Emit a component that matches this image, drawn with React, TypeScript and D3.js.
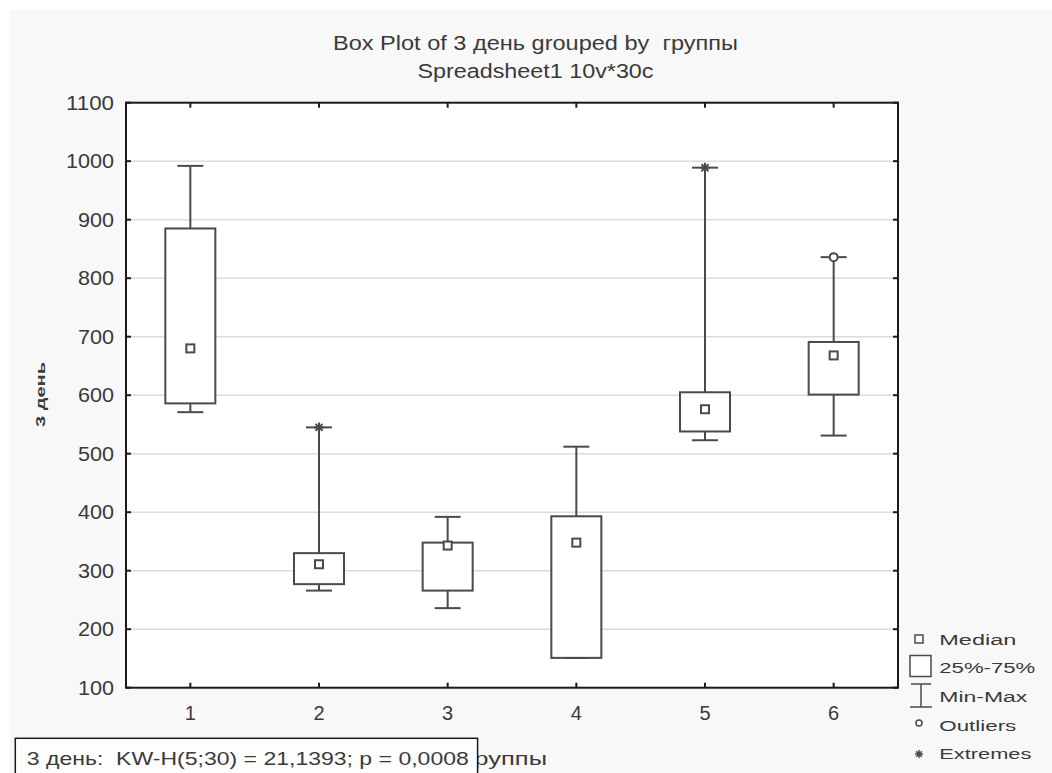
import React from "react";
import * as d3 from "d3";

const groups = ["1", "2", "3", "4", "5", "6"];
const mins = [571, 266, 236, 151, 523, 531];
const q1 = [586, 277, 266, 151, 538, 601];
const medians = [680, 311, 343, 348, 576, 668];
const q3 = [885, 330, 348, 393, 605, 691];
const maxs = [992, 545, 392, 512, 989, 836];
const outliers = [null, null, null, null, null, 836];
const extremes = [null, 545, null, null, 989, null];

const yTickValues = [100, 200, 300, 400, 500, 600, 700, 800, 900, 1000, 1100];

const title1 = "Box Plot of 3 день grouped by  группы";
const title2 = "Spreadsheet1 10v*30c";
const yTitle = "3 день";
const xTitle = "группы";
const statsText = "3 день:  KW-H(5;30) = 21,1393; p = 0,0008";

const legendItems = [
  { key: "median", label: "Median", len: 77 },
  { key: "box", label: "25%-75%", len: 96 },
  { key: "minmax", label: "Min-Max", len: 88 },
  { key: "outlier", label: "Outliers", len: 77 },
  { key: "extreme", label: "Extremes", len: 92 },
];

const FONT = "'Liberation Sans', Arial, sans-serif";
const INK = "#3a3a3a";
const LINE = "#4a4a4a";
const PRE = { whiteSpace: "pre" as const };

// 8-spoke star for extremes
const starPath = (cx: number, cy: number, r: number) => {
  const p = d3.path();
  for (let i = 0; i < 4; i++) {
    const a = (i * Math.PI) / 4;
    p.moveTo(cx - r * Math.cos(a), cy - r * Math.sin(a));
    p.lineTo(cx + r * Math.cos(a), cy + r * Math.sin(a));
  }
  return p.toString();
};

export default function App() {
  const W = 1052;
  const H = 773;
  const left = 126, right = 898, top = 102.7, bottom = 687.7;

  const x = d3.scaleBand<string>().domain(groups).range([left, right]);
  const y = d3.scaleLinear().domain([100, 1100]).range([bottom, top]);
  const cx = (g: string) => (x(g) as number) + x.bandwidth() / 2;

  const boxW = 50;
  const capW = 26;
  const med = 8;

  const legendX = 919;
  const legendY = [639, 666, 695, 723, 754];
  const legendBase = [645, 673, 702, 731, 759];

  return (
    <div style={{ position: "absolute", left: 0, top: 0 }}>
      <svg width={W} height={H} style={{ display: "block" }} fontFamily={FONT}>
        <rect x={0} y={0} width={W} height={H} fill="#ffffff" />
        <rect x={10} y={10} width={W - 10} height={H - 10} fill="#f8f8f8" />

        {/* titles */}
        <text x={535.5} y={50} fontSize={20} fill={INK} textAnchor="middle" style={PRE}
          textLength={405} lengthAdjust="spacingAndGlyphs">{title1}</text>
        <text x={535.5} y={77.7} fontSize={20} fill={INK} textAnchor="middle"
          textLength={236} lengthAdjust="spacingAndGlyphs">{title2}</text>

        {/* plot area */}
        <rect x={left} y={top} width={right - left} height={bottom - top} fill="#ffffff" />
        {yTickValues.filter((v) => v > 100 && v < 1100).map((v) => (
          <line key={"g" + v} x1={left} x2={right} y1={y(v)} y2={y(v)}
            stroke="#dcdcdc" strokeWidth={1.5} />
        ))}

        {/* boxes */}
        {groups.map((g, i) => {
          const c = cx(g);
          return (
            <g key={"b" + g} stroke={LINE} strokeWidth={2} fill="none">
              <line x1={c} x2={c} y1={y(maxs[i])} y2={y(q3[i])} />
              <line x1={c} x2={c} y1={y(q1[i])} y2={y(mins[i])} />
              <line x1={c - capW / 2} x2={c + capW / 2} y1={y(maxs[i])} y2={y(maxs[i])} />
              <line x1={c - capW / 2} x2={c + capW / 2} y1={y(mins[i])} y2={y(mins[i])} />
              <rect x={c - boxW / 2} y={y(q3[i])} width={boxW} height={y(q1[i]) - y(q3[i])}
                fill="#ffffff" />
              <rect x={c - med / 2} y={y(medians[i]) - med / 2} width={med} height={med}
                fill="#ffffff" />
              {outliers[i] != null && (
                <circle cx={c} cy={y(outliers[i] as number)} r={4} fill="#ffffff" strokeWidth={2} />
              )}
              {extremes[i] != null && (
                <path d={starPath(c, y(extremes[i] as number), 5)} strokeWidth={2} />
              )}
            </g>
          );
        })}

        {/* frame and ticks */}
        <rect x={left} y={top} width={right - left} height={bottom - top}
          fill="none" stroke="#1a1a1a" strokeWidth={2} />
        {groups.map((g) => (
          <g key={"t" + g} stroke="#1a1a1a" strokeWidth={2}>
            <line x1={cx(g)} x2={cx(g)} y1={top} y2={top + 5} />
            <line x1={cx(g)} x2={cx(g)} y1={bottom} y2={bottom - 5} />
          </g>
        ))}
        {yTickValues.map((v) => (
          <g key={"yt" + v} stroke="#1a1a1a" strokeWidth={2}>
            <line x1={left} x2={left + 5} y1={y(v)} y2={y(v)} />
            <line x1={right} x2={right - 5} y1={y(v)} y2={y(v)} />
          </g>
        ))}

        {/* tick labels */}
        {yTickValues.map((v) => {
          const s = String(v);
          const len = s.length * 12;
          return (
            <text key={"yl" + v} x={114 - len} y={y(v) + 7} fontSize={20} fill={INK}
              textLength={len} lengthAdjust="spacingAndGlyphs">{s}</text>
          );
        })}
        {groups.map((g) => (
          <text key={"xl" + g} x={cx(g)} y={720} fontSize={20} fill={INK} textAnchor="middle">{g}</text>
        ))}

        {/* axis titles */}
        <text transform="translate(45,427) rotate(-90)" fontSize={12} fontWeight="bold" fill={INK}
          textLength={65} lengthAdjust="spacingAndGlyphs">{yTitle}</text>
        <text x={465} y={765} fontSize={18.5} fill={INK}
          textLength={82} lengthAdjust="spacingAndGlyphs">{xTitle}</text>

        {/* stats box */}
        <rect x={15.3} y={738.3} width={462.3} height={50} fill="#fdfdfd" stroke="#1a1a1a" strokeWidth={1.5} />
        <text x={26.8} y={765} fontSize={18.5} fill={INK} style={PRE}
          textLength={442} lengthAdjust="spacingAndGlyphs">{statsText}</text>

        {/* legend */}
        {legendItems.map((it, i) => {
          const ly = legendY[i];
          let mark: React.ReactNode = null;
          if (it.key === "median") {
            mark = <rect x={legendX - 4} y={ly - 4} width={8} height={8} fill="#ffffff" />;
          } else if (it.key === "box") {
            mark = <rect x={910} y={ly - 10.5} width={21} height={21} fill="#ffffff" />;
          } else if (it.key === "minmax") {
            mark = (
              <g>
                <line x1={911} x2={931} y1={684} y2={684} />
                <line x1={921} x2={921} y1={684} y2={707} />
                <line x1={910} x2={932} y1={707} y2={707} />
              </g>
            );
          } else if (it.key === "outlier") {
            mark = <circle cx={legendX} cy={ly} r={3} fill="#ffffff" />;
          } else {
            mark = <path d={starPath(legendX, ly, 4)} />;
          }
          return (
            <g key={"lg" + it.key}>
              <g stroke={LINE} strokeWidth={1.5} fill="none">{mark}</g>
              <text x={939.3} y={legendBase[i]} fontSize={14} fill={INK}
                textLength={it.len} lengthAdjust="spacingAndGlyphs">{it.label}</text>
            </g>
          );
        })}
      </svg>
    </div>
  );
}
